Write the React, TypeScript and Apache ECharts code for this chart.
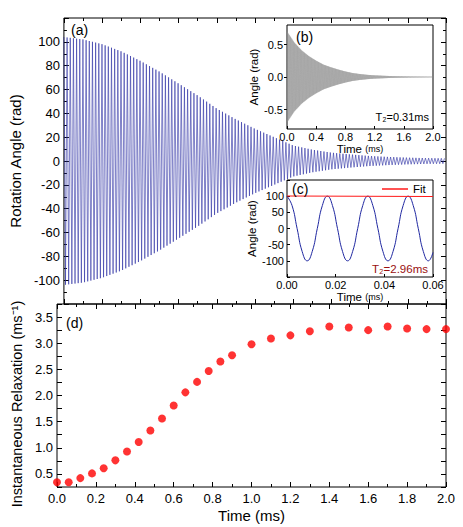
import React, { useEffect, useRef } from 'react';
import * as echarts from 'echarts';

const FONT = '"Liberation Sans", Arial, Helvetica, sans-serif';

// Panel (a): envelope of the rotation-angle signal (rad), read at 0.1 ms steps
const envTimesA = [0, 0.1, 0.2, 0.3, 0.4, 0.5, 0.6, 0.7, 0.8, 0.9, 1.0, 1.1, 1.2, 1.3, 1.4, 1.5, 1.6, 1.7, 1.8, 1.9, 2.0];
const envAmpA = [104, 102, 98, 92, 84, 75, 65, 55, 44, 35, 27, 20, 13, 9.5, 7, 5.5, 4.2, 3.4, 2.8, 2.4, 2.2];
const periodA = 0.0166; // ms (c)

// Inset (b): envelope of the decaying signal (rad)
const envTimesB = [0, 0.1, 0.2, 0.3, 0.4, 0.5, 0.6, 0.7, 0.8, 0.9, 1.0, 1.1, 1.2, 1.3, 1.4, 1.5, 1.6, 1.7, 1.8, 1.9, 2.0];
const envAmpB = [0.7, 0.53, 0.41, 0.32, 0.25, 0.19, 0.15, 0.115, 0.085, 0.06, 0.045, 0.033, 0.025, 0.02, 0.015, 0.012, 0.01, 0.008, 0.007, 0.006, 0.005];
const halfPeriodB = 0.004;

// Inset (c): first oscillations (rad) and the fit
const cTimes = [0, 0.002075, 0.00415, 0.006225, 0.0083, 0.010375, 0.01245, 0.014525, 0.0166, 0.018675, 0.02075, 0.022825, 0.0249, 0.026975, 0.02905, 0.031125, 0.0332, 0.035275, 0.03735, 0.039425, 0.0415, 0.043575, 0.04565, 0.047725, 0.0498, 0.051875, 0.05395, 0.056025, 0.0581, 0.06];
const cAngles = [100, 71, 0, -71, -100, -71, 0, 71, 100, 71, 0, -71, -100, -71, 0, 71, 100, 71, 0, -71, -100, -71, 0, 71, 100, 71, 0, -71, -100, -74];
const fitTimes = [0, 0.06];
const fitAngles = [100.5, 99];

// Panel (d): instantaneous relaxation (ms^-1)
const dTimes = [0, 0.06, 0.12, 0.18, 0.24, 0.3, 0.36, 0.42, 0.48, 0.54, 0.6, 0.66, 0.72, 0.78, 0.84, 0.9, 1.0, 1.1, 1.2, 1.3, 1.4, 1.5, 1.6, 1.7, 1.8, 1.9, 2.0];
const dRelax = [0.34, 0.34, 0.42, 0.51, 0.61, 0.76, 0.93, 1.11, 1.33, 1.56, 1.81, 2.06, 2.26, 2.47, 2.65, 2.77, 2.98, 3.09, 3.15, 3.23, 3.32, 3.3, 3.25, 3.32, 3.28, 3.27, 3.27];

function envAt(times: number[], vals: number[], t: number) {
  if (t <= times[0]) return vals[0];
  for (let i = 0; i < times.length - 1; i++) {
    if (t <= times[i + 1]) {
      const f = (t - times[i]) / (times[i + 1] - times[i]);
      return vals[i] + f * (vals[i + 1] - vals[i]);
    }
  }
  return vals[vals.length - 1];
}

function peaks(times: number[], vals: number[], half: number, tMax: number) {
  const out: number[][] = [];
  for (let k = 0; k * half <= tMax + 1e-9; k++) {
    const t = k * half;
    const a = envAt(times, vals, t);
    out.push([t, k % 2 === 0 ? a : -a]);
  }
  return out;
}

const black = '#000';
const lbl = (size: number, margin: number) => ({ color: black, fontSize: size, fontFamily: FONT, margin });

export default function App() {
  const ref = useRef<HTMLDivElement>(null);
  useEffect(() => {
    if (!ref.current) return;
    const chart = echarts.init(ref.current, undefined, { renderer: 'svg' });
    const mainData = peaks(envTimesA, envAmpA, periodA / 2, 2);
    const bData = peaks(envTimesB, envAmpB, halfPeriodB, 2);
    const cData = cTimes.map((t, i) => [t, cAngles[i]]);
    const fitData = fitTimes.map((t, i) => [t, fitAngles[i]]);
    const dData = dTimes.map((t, i) => [t, dRelax[i]]);

    const mainTick = { show: true, inside: true, length: 5, lineStyle: { color: black } };
    const mainMinor = { show: true, splitNumber: 2, length: 3, lineStyle: { color: black } };
    const noLine = { show: false, onZero: false };

    const option: any = {
      animation: false,
      backgroundColor: '#fff',
      textStyle: { fontFamily: FONT },
      grid: [
        { left: 57, top: 18, width: 389, height: 286, show: true, borderColor: black, borderWidth: 1, backgroundColor: 'transparent', z: 0 },
        { left: 57, top: 304, width: 389, height: 183, show: true, borderColor: black, borderWidth: 1, backgroundColor: 'transparent', z: 0 },
        { left: 287, top: 25, width: 146, height: 104, show: true, borderColor: black, borderWidth: 1, backgroundColor: '#fff', z: 3 },
        { left: 287, top: 180, width: 146, height: 97, show: true, borderColor: black, borderWidth: 1, backgroundColor: '#fff', z: 3 },
      ],
      xAxis: [
        { gridIndex: 0, type: 'value', position: 'bottom', min: 0, max: 2, interval: 0.2, axisLine: noLine, axisTick: mainTick, minorTick: mainMinor, axisLabel: { show: false }, splitLine: { show: false } },
        { gridIndex: 0, type: 'value', position: 'top', min: 0, max: 2, interval: 0.2, axisLine: noLine, axisTick: mainTick, minorTick: mainMinor, axisLabel: { show: false }, splitLine: { show: false } },
        {
          gridIndex: 1, type: 'value', position: 'bottom', min: 0, max: 2, interval: 0.2, axisLine: noLine, axisTick: mainTick, minorTick: mainMinor,
          axisLabel: { ...lbl(13, 5), formatter: (v: number) => v.toFixed(1) }, splitLine: { show: false },
          name: 'Time (ms)', nameLocation: 'middle', nameGap: 21, nameTextStyle: { color: black, fontSize: 15, fontFamily: FONT },
        },
        { gridIndex: 1, type: 'value', position: 'top', min: 0, max: 2, interval: 0.2, axisLine: noLine, axisTick: mainTick, minorTick: mainMinor, axisLabel: { show: false }, splitLine: { show: false } },
        {
          gridIndex: 2, type: 'value', position: 'bottom', min: 0, max: 2, interval: 0.4, z: 4, axisLine: noLine,
          axisTick: { show: true, inside: true, length: 3, lineStyle: { color: black } },
          axisLabel: { ...lbl(11, 2), formatter: (v: number) => v.toFixed(1) }, splitLine: { show: false },
          name: '{a|Time} {b|(ms)}', nameLocation: 'middle', nameGap: 9,
          nameTextStyle: { rich: { a: { fontSize: 11.5, color: black, fontFamily: FONT }, b: { fontSize: 9, color: black, fontFamily: FONT } } },
        },
        {
          gridIndex: 3, type: 'value', position: 'bottom', min: 0, max: 0.06, interval: 0.02, z: 4, axisLine: noLine,
          axisTick: { show: true, inside: true, length: 3, lineStyle: { color: black } },
          axisLabel: { ...lbl(11, 2), formatter: (v: number) => v.toFixed(2) }, splitLine: { show: false },
          name: '{a|Time} {b|(ms)}', nameLocation: 'middle', nameGap: 8,
          nameTextStyle: { rich: { a: { fontSize: 11.5, color: black, fontFamily: FONT }, b: { fontSize: 9, color: black, fontFamily: FONT } } },
        },
      ],
      yAxis: [
        {
          gridIndex: 0, type: 'value', position: 'left', min: -120, max: 120, interval: 20, axisLine: noLine, axisTick: mainTick, minorTick: mainMinor,
          axisLabel: { ...lbl(13, 4), formatter: (v: number) => (Math.abs(v) > 110 ? '' : String(v)) }, splitLine: { show: false },
          name: 'Rotation Angle (rad)', nameLocation: 'middle', nameGap: 32, nameTextStyle: { color: black, fontSize: 15, fontFamily: FONT },
        },
        { gridIndex: 0, type: 'value', position: 'right', min: -120, max: 120, interval: 20, axisLine: noLine, axisTick: mainTick, minorTick: mainMinor, axisLabel: { show: false }, splitLine: { show: false } },
        {
          gridIndex: 1, type: 'value', position: 'left', min: 0.25, max: 3.75, interval: 0.25, axisLine: noLine, axisTick: mainTick,
          axisLabel: { ...lbl(13, 4), formatter: (v: number) => (Math.abs(v * 2 - Math.round(v * 2)) < 1e-6 && v > 0.3 && v < 3.7 ? v.toFixed(1) : '') },
          splitLine: { show: false },
        },
        { gridIndex: 1, type: 'value', position: 'right', min: 0.25, max: 3.75, interval: 0.25, axisLine: noLine, axisTick: mainTick, axisLabel: { show: false }, splitLine: { show: false } },
        {
          gridIndex: 2, type: 'value', position: 'left', min: -0.8, max: 0.8, z: 4, axisLine: noLine,
          axisTick: { show: true, inside: false, length: 3, lineStyle: { color: black }, customValues: [-0.5, 0, 0.5] },
          axisLabel: { ...lbl(11, 4), customValues: [-0.5, 0, 0.5], formatter: (v: number) => v.toFixed(1) }, splitLine: { show: false },
          name: 'Angle (rad)', nameLocation: 'middle', nameGap: 20, nameTextStyle: { color: black, fontSize: 11.5, fontFamily: FONT },
        },
        {
          gridIndex: 3, type: 'value', position: 'left', min: -150, max: 150, interval: 50, z: 4, axisLine: noLine,
          axisTick: { show: true, inside: true, length: 3, lineStyle: { color: black } },
          axisLabel: { ...lbl(11, 3), formatter: (v: number) => (Math.abs(v) > 120 ? '' : String(v)) }, splitLine: { show: false },
          name: 'Angle (rad)', nameLocation: 'middle', nameGap: 20, nameTextStyle: { color: black, fontSize: 11.5, fontFamily: FONT },
        },
      ],
      legend: {
        data: [{ name: 'Fit', icon: 'rect' }], left: 382, top: 183, padding: 0, itemWidth: 26, itemHeight: 1.5, itemGap: 4,
        textStyle: { color: black, fontSize: 11.5, fontFamily: FONT }, z: 10, selectedMode: false,
      },
      series: [
        { type: 'line', xAxisIndex: 0, yAxisIndex: 0, data: mainData, showSymbol: false, silent: true, z: 2, lineStyle: { color: '#2a2ea3', width: 0.6 } },
        { type: 'scatter', xAxisIndex: 2, yAxisIndex: 2, data: dData, symbolSize: 8, clip: false, itemStyle: { color: '#ff0000' }, z: 2 },
        { type: 'line', xAxisIndex: 4, yAxisIndex: 4, data: bData, showSymbol: false, silent: true, z: 5, lineStyle: { color: '#8a8a8a', width: 0.35 } },
        { type: 'line', xAxisIndex: 5, yAxisIndex: 5, data: cData, smooth: true, showSymbol: false, silent: true, z: 5, lineStyle: { color: '#1f27a0', width: 1 } },
        { name: 'Fit', type: 'line', xAxisIndex: 5, yAxisIndex: 5, data: fitData, showSymbol: false, silent: true, z: 6, itemStyle: { color: '#ff1a1a' }, lineStyle: { color: '#ff1a1a', width: 1.2 } },
      ],
      graphic: [
        { type: 'text', x: 71, y: 30, z: 10, style: { text: '(a)', fontSize: 14, fontFamily: FONT, fill: black, align: 'left', verticalAlign: 'middle' } },
        { type: 'text', x: 296, y: 37, z: 10, style: { text: '(b)', fontSize: 14, fontFamily: FONT, fill: black, align: 'left', verticalAlign: 'middle' } },
        { type: 'text', x: 292, y: 189, z: 10, style: { text: '(c)', fontSize: 14, fontFamily: FONT, fill: black, align: 'left', verticalAlign: 'middle' } },
        { type: 'text', x: 66, y: 323, z: 10, style: { text: '(d)', fontSize: 14, fontFamily: FONT, fill: black, align: 'left', verticalAlign: 'middle' } },
        { type: 'text', x: 429, y: 117, z: 10, style: { text: 'T₂=0.31ms', fontSize: 11, fontFamily: FONT, fill: black, align: 'right', verticalAlign: 'middle' } },
        { type: 'text', x: 428, y: 269, z: 10, style: { text: 'T₂=2.96ms', fontSize: 11.5, fontFamily: FONT, fill: '#9a0f0f', align: 'right', verticalAlign: 'middle' } },
        { type: 'text', x: 17, y: 404, rotation: Math.PI / 2, z: 10, style: { text: 'Instantaneous Relaxation (ms⁻¹)', fontSize: 14.5, fontFamily: FONT, fill: black, align: 'center', verticalAlign: 'middle' } },
      ],
    };
    chart.setOption(option);
    return () => chart.dispose();
  }, []);
  return <div ref={ref} style={{ position: 'fixed', left: 0, top: 0, width: 463, height: 527 }} />;
}
